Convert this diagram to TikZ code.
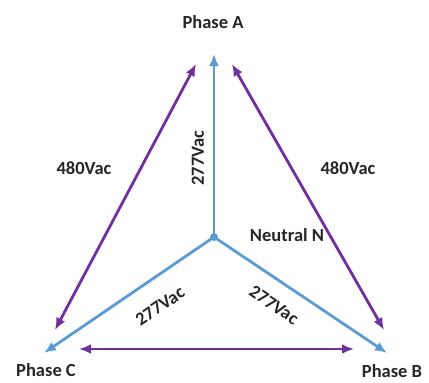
\documentclass[tikz,border=0pt]{standalone}
\usepackage{fontspec}
\setmainfont{Carlito}
\usetikzlibrary{arrows.meta}
\definecolor{wyeblue}{HTML}{5B9BD5}
\definecolor{linepurple}{HTML}{7030A0}
\tikzset{
  phase/.style={wyeblue, line width=2.8pt, -{Latex[length=12pt,width=10pt]}},
  line/.style={linepurple, line width=2.8pt, {Latex[length=12pt,width=10pt]}-{Latex[length=12pt,width=10pt]}},
  lbl/.style={font=\bfseries\fontsize{18.5}{22}\selectfont, text=black!85, inner sep=1pt}
}
\begin{document}
\begin{tikzpicture}[x=1pt,y=-1pt]
  \useasboundingbox (0,0) rectangle (429,383);
  % phase labels
  \node[lbl] (la) at (213,22) {Phase A};
  \node[lbl] (lc) at (46,370) {Phase C};
  \node[lbl] (lb) at (392,371) {Phase B};
  % neutral and wye legs
  \coordinate (n) at (214,237);
  \coordinate (a) at (214,54);
  \coordinate (b) at (387,353);
  \coordinate (c) at (44,353);
  \fill[wyeblue] (n) circle (4pt);
  \draw[phase] (n) -- (a);
  \draw[phase] (n) -- (b);
  \draw[phase] (n) -- (c);
  % line to line arrows
  \coordinate (ac1) at (196,64);
  \coordinate (ac2) at (55,330);
  \coordinate (ab1) at (232,64);
  \coordinate (ab2) at (384,330);
  \coordinate (cb1) at (79,349);
  \coordinate (cb2) at (354,349);
  \draw[line] (ac1) -- (ac2);
  \draw[line] (ab1) -- (ab2);
  \draw[line] (cb1) -- (cb2);
  % voltages
  \node[lbl] (vac) at (84,168) {480Vac};
  \node[lbl] (vab) at (348,168) {480Vac};
  \node[lbl, rotate=90] (van) at (198,158) {277Vac};
  \node[lbl, rotate=34] (vcn) at (160,306) {277Vac};
  \node[lbl, rotate=-34] (vbn) at (274,305) {277Vac};
  \node[lbl] (neu) at (287,235) {Neutral N};
\end{tikzpicture}
\end{document}
